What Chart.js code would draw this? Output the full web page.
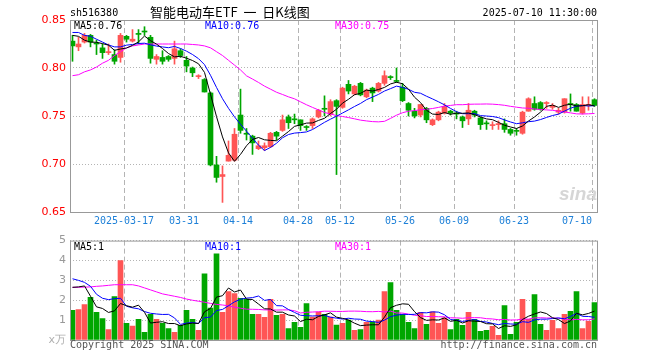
<!DOCTYPE html>
<html>
<head>
<meta charset="utf-8">
<script src="https://cdn.jsdelivr.net/npm/chart.js@4.4.1/dist/chart.umd.min.js"></script>
<style>
  html, body { margin: 0; padding: 0; background: #fff; }
  #wrap { position: relative; width: 660px; height: 360px; }
  #kline { position: absolute; left: 0; top: 0; }
  #vol { position: absolute; left: 0; top: 230px; }
</style>
</head>
<body>
<div id="wrap">
  <canvas id="kline" width="660" height="230"></canvas>
  <canvas id="vol" width="660" height="130"></canvas>
</div>
<script>
// daily bars 2025-03-04 .. 2025-07-10 (88 sessions)
var opens = [0.828,0.822,0.827,0.834,0.826,0.821,0.816,0.814,0.811,0.833,
  0.828,0.836,0.8385,0.832,0.809,0.811,0.812,0.810,0.818,0.808,
  0.800,0.791,0.788,0.774,0.699,0.687,0.703,0.704,0.751,0.732,
  0.729,0.716,0.717,0.718,0.733,0.735,0.749,0.747,0.746,0.739,
  0.740,0.749,0.758,0.752,0.766,0.759,0.783,0.773,0.784,0.770,
  0.779,0.776,0.784,0.791,0.787,0.780,0.763,0.755,0.751,0.758,
  0.741,0.746,0.753,0.755,0.753,0.749,0.747,0.755,0.748,0.7425,
  0.740,0.741,0.742,0.736,0.735,0.732,0.755,0.763,0.764,0.763,
  0.759,0.754,0.754,0.763,0.762,0.753,0.761,0.767];
var highs = [0.834,0.832,0.836,0.835,0.829,0.825,0.825,0.819,0.836,0.834,
  0.840,0.840,0.843,0.834,0.814,0.818,0.813,0.828,0.820,0.812,
  0.801,0.793,0.789,0.775,0.708,0.698,0.724,0.737,0.778,0.737,
  0.730,0.724,0.722,0.733,0.734,0.751,0.751,0.752,0.746,0.740,
  0.748,0.757,0.771,0.767,0.767,0.780,0.787,0.782,0.785,0.778,
  0.780,0.785,0.797,0.792,0.800,0.784,0.764,0.758,0.762,0.759,
  0.747,0.755,0.763,0.756,0.755,0.750,0.763,0.756,0.749,0.745,
  0.744,0.745,0.747,0.737,0.737,0.755,0.769,0.770,0.765,0.765,
  0.763,0.758,0.768,0.773,0.763,0.770,0.770,0.768];
var lows = [0.807,0.818,0.826,0.822,0.814,0.810,0.814,0.804,0.806,0.827,
  0.827,0.825,0.834,0.805,0.804,0.804,0.807,0.804,0.811,0.796,
  0.791,0.789,0.775,0.698,0.681,0.660,0.703,0.703,0.732,0.725,
  0.710,0.715,0.714,0.717,0.725,0.734,0.737,0.742,0.735,0.735,
  0.737,0.748,0.750,0.750,0.689,0.758,0.773,0.772,0.771,0.769,
  0.765,0.775,0.782,0.788,0.785,0.765,0.750,0.748,0.749,0.743,
  0.740,0.745,0.752,0.751,0.747,0.738,0.741,0.749,0.736,0.736,
  0.736,0.736,0.733,0.730,0.730,0.731,0.755,0.756,0.756,0.758,
  0.757,0.752,0.753,0.755,0.755,0.752,0.756,0.760];
var closes = [0.823,0.825,0.834,0.827,0.825,0.816,0.817,0.807,0.834,0.830,
  0.830,0.835,0.8375,0.810,0.812,0.807,0.809,0.820,0.813,0.802,
  0.795,0.792,0.775,0.699,0.686,0.689,0.709,0.731,0.735,0.731,
  0.722,0.719,0.719,0.732,0.729,0.746,0.743,0.746,0.740,0.738,
  0.747,0.756,0.757,0.765,0.760,0.779,0.776,0.781,0.772,0.777,
  0.774,0.784,0.792,0.790,0.786,0.766,0.756,0.750,0.762,0.746,
  0.746,0.754,0.760,0.753,0.752,0.745,0.756,0.751,0.741,0.7418,
  0.741,0.742,0.736,0.732,0.734,0.754,0.768,0.757,0.757,0.764,
  0.761,0.756,0.768,0.762,0.755,0.762,0.762,0.761];
// volume, x万
var volumes = [1.49,1.53,1.78,2.15,1.39,1.08,0.53,2.18,4.00,0.84,
  0.70,1.04,0.39,1.29,1.04,0.84,0.58,0.39,0.74,1.49,
  1.04,0.49,3.33,1.60,4.33,1.39,2.43,2.33,2.09,2.04,
  1.29,1.29,1.14,2.04,1.24,1.29,0.58,0.89,0.64,1.83,
  1.15,1.41,1.29,1.15,0.75,0.84,1.00,0.49,0.53,0.89,
  0.92,1.00,2.43,2.89,1.49,1.29,0.89,0.58,1.39,0.79,
  1.42,0.84,1.12,0.53,1.04,0.74,1.39,1.04,0.44,0.49,
  0.69,0.23,1.73,0.28,0.89,2.04,1.04,2.29,0.79,0.49,
  0.99,0.58,1.29,1.44,2.43,0.58,0.94,1.88];

// MA values at the left edge (they need sessions before 03-04)
var ma5Lead = [0.834,0.833,0.829,0.827];
var ma10Lead = [0.837,0.837,0.834,0.833,0.830,0.827,0.824,0.822,0.822];
var ma30Lead = [0.792,0.793,0.796,0.798,0.801,0.805,0.808,0.813,0.817,0.821,
  0.823,0.824,0.825,0.825,0.825,0.825,0.825,0.825,0.825,0.825,
  0.8245,0.824,0.823,0.821,0.817,0.813,0.808,0.803,0.798];
var vma5Lead = [2.65,2.67,2.72,2.2];
var vma10Lead = [3.08,3.0,2.9,2.7,2.3,2.1,2.03,2.08,2.1];
var vma30Lead = [2.65,2.65,2.66,2.67,2.70,2.72,2.75,2.78,2.78,2.78,
  2.78,2.72,2.62,2.52,2.42,2.32,2.26,2.20,2.14,2.06,
  2.00,1.95,1.90,1.84,1.79,1.76,1.72,1.65,1.60];

var tickIndex = [9, 19, 28, 38, 45, 55, 64, 74, 87];
var tickLabels = ['2025-03-17','03-31','04-14','04-28','05-12','05-26','06-09','06-23','07-10'];
var priceTicks = [0.65, 0.70, 0.75, 0.80, 0.85];
var volTicks = [0, 1, 2, 3, 4, 5];

var UP = '#ff5555', DOWN = '#00a600';
var MONO = 'DejaVu Sans Mono';

function movingAvg(src, n, lead) {
  return src.map(function (v, i) {
    if (i < n - 1) return lead[i];
    var s = 0;
    for (var k = i - n + 1; k <= i; k++) s += src[k];
    return s / n;
  });
}
function pts(arr) { return arr.map(function (v, i) { return { x: i, y: v }; }); }

var ma5 = movingAvg(closes, 5, ma5Lead);
var ma10 = movingAvg(closes, 10, ma10Lead);
var ma30 = movingAvg(closes, 30, ma30Lead);
var vma5 = movingAvg(volumes, 5, vma5Lead);
var vma10 = movingAvg(volumes, 10, vma10Lead);
var vma30 = movingAvg(volumes, 30, vma30Lead);

var colors = closes.map(function (c, i) { return c >= opens[i] ? UP : DOWN; });

// slot of 6px per session, bar centre 2.5px right of slot start
var OFF = 5 / 12;
function xAxis() {
  return {
    type: 'linear', min: -OFF, max: closes.length - OFF, offset: false,
    afterBuildTicks: function (s) { s.ticks = tickIndex.map(function (k) { return { value: k - OFF }; }); },
    afterFit: function (s) { s.height = 0; },
    ticks: { display: false },
    grid: { color: '#b4b4b4', drawTicks: false, offset: false },
    border: { display: false, dash: [5, 3] }
  };
}
function maLine(data, color) {
  return { type: 'line', data: pts(data), borderColor: color, borderWidth: 1,
    pointRadius: 0, tension: 0, order: 0 };
}

function frame(chart) {
  var a = chart.chartArea, ctx = chart.ctx;
  ctx.save();
  ctx.strokeStyle = '#999';
  ctx.lineWidth = 1;
  ctx.strokeRect(a.left + 0.5, a.top + 0.5, a.right - a.left - 1, a.bottom - a.top);
  ctx.restore();
}
function text(ctx, s, x, y, font, color, align) {
  ctx.font = font;
  ctx.fillStyle = color;
  ctx.textAlign = align || 'left';
  ctx.fillText(s, x, y);
}

var klineDecor = {
  id: 'klineDecor',
  beforeDatasetsDraw: function (chart) {
    var ctx = chart.ctx;
    ctx.save();
    ctx.textBaseline = 'alphabetic';
    text(ctx, 'sina', 597, 200, 'italic bold 19px "Liberation Sans"', '#d6d6d6', 'right');
    ctx.restore();
  },
  afterDraw: function (chart) {
    var ctx = chart.ctx, x = chart.scales.x, last = closes.length - 1;
    frame(chart);
    ctx.save();
    ctx.textBaseline = 'alphabetic';
    text(ctx, 'sh516380', 70, 16, '10px "' + MONO + '"', '#000');
    text(ctx, '智能电动车ETF  一  日K线图', 150, 17, '13px "Noto Sans CJK SC"', '#000');
    text(ctx, '2025-07-10 11:30:00', 597, 16, '10px "' + MONO + '"', '#000', 'right');
    text(ctx, 'MA5:' + ma5[last].toFixed(2), 74, 29, '10px "' + MONO + '"', '#000');
    text(ctx, 'MA10:' + ma10[last].toFixed(2), 205, 29, '10px "' + MONO + '"', '#0000ff');
    text(ctx, 'MA30:' + ma30[last].toFixed(2), 335, 29, '10px "' + MONO + '"', '#ff00ff');
    // date labels between the two panels
    ctx.font = '10px "' + MONO + '"';
    ctx.fillStyle = '#1e80d8';
    ctx.textAlign = 'center';
    ctx.textBaseline = 'middle';
    tickIndex.forEach(function (k, n) {
      var px = x.getPixelForValue(k - OFF);
      var w = ctx.measureText(tickLabels[n]).width;
      if (px + w / 2 > chart.chartArea.right - 6) px = chart.chartArea.right - 6 - w / 2;
      ctx.fillText(tickLabels[n], px, 221);
    });
    ctx.restore();
  }
};

var volDecor = {
  id: 'volDecor',
  afterDraw: function (chart) {
    var ctx = chart.ctx, last = volumes.length - 1;
    frame(chart);
    ctx.save();
    ctx.textBaseline = 'alphabetic';
    text(ctx, 'MA5:' + vma5[last].toFixed(0), 74, 20, '10px "' + MONO + '"', '#000');
    text(ctx, 'MA10:' + vma10[last].toFixed(0), 205, 20, '10px "' + MONO + '"', '#0000ff');
    text(ctx, 'MA30:' + vma30[last].toFixed(0), 335, 20, '10px "' + MONO + '"', '#ff00ff');
    text(ctx, 'Copyright 2025 SINA.COM', 70, 118, '10px "' + MONO + '"', '#555');
    text(ctx, 'http://finance.sina.com.cn', 597, 118, '10px "' + MONO + '"', '#555', 'right');
    ctx.restore();
  }
};

var kline = new Chart(document.getElementById('kline').getContext('2d'), {
  type: 'bar',
  data: {
    datasets: [
      maLine(ma5, '#000000'),
      maLine(ma10, '#0000ff'),
      maLine(ma30, '#ff00ff'),
      {
        // candle bodies
        data: closes.map(function (c, i) { return { x: i, y: [Math.min(opens[i], c), Math.max(opens[i], c)] }; }),
        backgroundColor: colors, barThickness: 5, minBarLength: 1, grouped: false, order: 1
      },
      {
        // wicks
        data: closes.map(function (c, i) { return { x: i, y: [lows[i], highs[i]] }; }),
        backgroundColor: colors, barThickness: 1, minBarLength: 1, grouped: false, order: 2
      }
    ]
  },
  options: {
    responsive: false,
    animation: false,
    events: [],
    layout: { padding: { left: 0, right: 62, top: 20, bottom: 18 } },
    plugins: { legend: { display: false }, tooltip: { enabled: false } },
    scales: {
      x: xAxis(),
      y: {
        min: 0.65, max: 0.85,
        afterBuildTicks: function (s) { s.ticks = priceTicks.map(function (v) { return { value: v }; }); },
        afterFit: function (s) { s.width = 70; },
        ticks: { color: '#ff0000', padding: 4, font: { family: 'DejaVu Sans', size: 11 },
          callback: function (v) { return v.toFixed(2); } },
        grid: { color: '#b4b4b4', drawTicks: false },
        border: { display: false, dash: [1, 2] }
      }
    }
  },
  plugins: [klineDecor]
});

var vol = new Chart(document.getElementById('vol').getContext('2d'), {
  type: 'bar',
  data: {
    datasets: [
      maLine(vma5, '#000000'),
      maLine(vma10, '#0000ff'),
      maLine(vma30, '#ff00ff'),
      {
        data: pts(volumes),
        backgroundColor: colors, barThickness: 5, grouped: false, order: 1
      }
    ]
  },
  options: {
    responsive: false,
    animation: false,
    events: [],
    layout: { padding: { left: 0, right: 62, top: 10, bottom: 20 } },
    plugins: { legend: { display: false }, tooltip: { enabled: false } },
    scales: {
      x: xAxis(),
      y: {
        min: 0, max: 5,
        afterBuildTicks: function (s) { s.ticks = volTicks.map(function (v) { return { value: v }; }); },
        afterFit: function (s) { s.width = 70; },
        ticks: {
          padding: 4, font: { family: 'DejaVu Sans', size: 11 },
          color: function (c) { return c.tick && c.tick.value === 0 ? '#b0b0b0' : '#999999'; },
          callback: function (v) { return v === 0 ? 'x万' : String(v); }
        },
        grid: { color: '#b4b4b4', drawTicks: false },
        border: { display: false, dash: [1, 2] }
      }
    }
  },
  plugins: [volDecor]
});
</script>
</body>
</html>
